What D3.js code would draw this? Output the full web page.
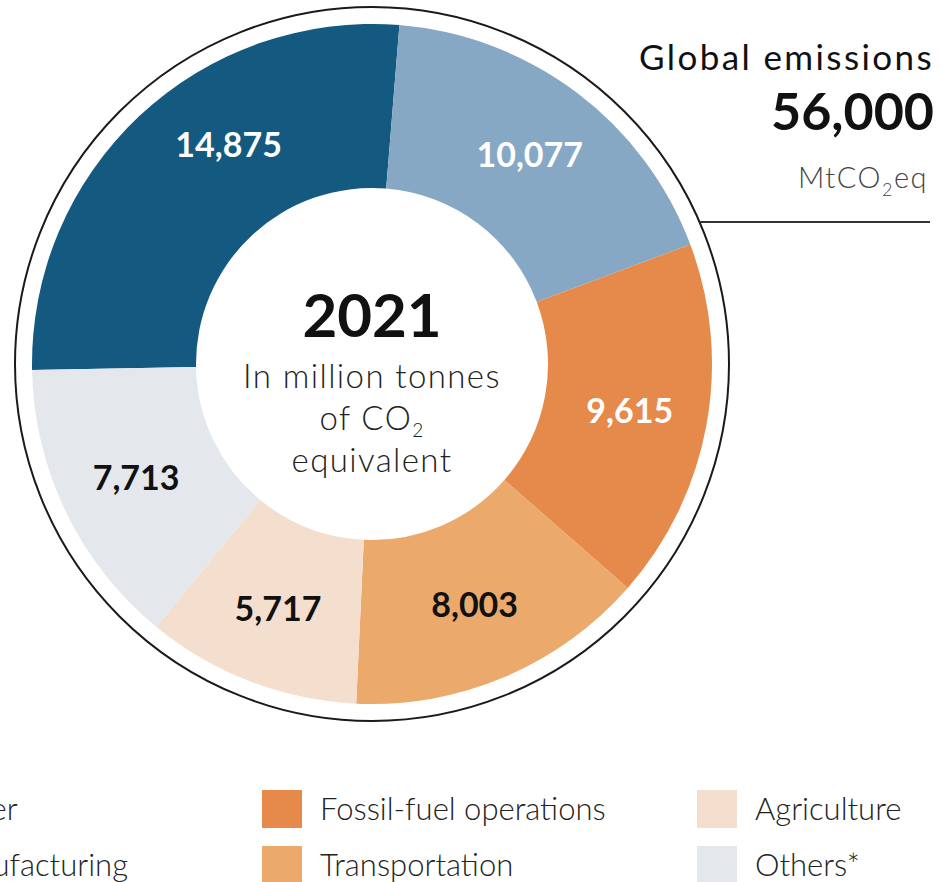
<!DOCTYPE html>
<html>
<head>
<meta charset="utf-8">
<script src="https://cdn.jsdelivr.net/npm/d3@7"></script>
<style>
  html, body { margin: 0; padding: 0; background: #fff; overflow: hidden; }
  svg { display: block; font-family: Lato, "Source Sans Pro", "Noto Sans", sans-serif; }
</style>
</head>
<body>
<svg id="chart" width="941" height="882"></svg>
<script>
// NOTE: chart data
const categories = ['Power', 'Manufacturing', 'Fossil-fuel operations', 'Transportation', 'Agriculture', 'Others*']
const values = [14875, 10077, 9615, 8003, 5717, 7713]
const colors = ['#135980', '#86a8c4', '#e68a4b', '#eba96c', '#f4dfcf', '#e4e8ec']
const labelColors = ['#fff', '#fff', '#fff', '#111', '#111', '#111']
const year = '2021'
const total = 56000

const svg = d3.select('#chart')
const cx = 372
const cy = 364
const outerR = 340
const innerR = 176
const ringR = 357

const data = categories.map((name, i) => ({ name, value: values[i], color: colors[i], label: labelColors[i] }))

const pie = d3.pie()
  .sort(null)
  .value(d => d.value)
  .startAngle(-91 * Math.PI / 180)
  .endAngle(269 * Math.PI / 180)

const arc = d3.arc().innerRadius(innerR).outerRadius(outerR)
const labelArc = d3.arc().innerRadius(262).outerRadius(262)

const g = svg.append('g').attr('transform', `translate(${cx},${cy})`)

// NOTE: thin outline ring around the donut
g.append('circle')
  .attr('r', ringR)
  .attr('fill', 'none')
  .attr('stroke', '#1a1a1a')
  .attr('stroke-width', 2)

const arcs = pie(data)

g.selectAll('path.slice')
  .data(arcs)
  .join('path')
  .attr('class', 'slice')
  .attr('d', arc)
  .attr('fill', d => d.data.color)

// NOTE: power label sits a bit clockwise of its centroid angle
const labelTurn = { Power: 10 * Math.PI / 180 }

g.selectAll('text.value')
  .data(arcs)
  .join('text')
  .attr('class', 'value')
  .attr('transform', d => {
    const turn = labelTurn[d.data.name] || 0
    const a = (d.startAngle + d.endAngle) / 2 + turn
    const [x, y] = labelArc.centroid({ startAngle: a, endAngle: a })
    return `translate(${x},${y})`
  })
  .attr('text-anchor', 'middle')
  .attr('dy', '0.36em')
  .attr('font-size', 34)
  .attr('font-weight', 700)
  .attr('fill', d => d.data.label)
  .text(d => d3.format(',')(d.data.value))

// NOTE: centre text
g.append('text')
  .attr('text-anchor', 'middle')
  .attr('y', -27)
  .attr('font-size', 60)
  .attr('font-weight', 700)
  .attr('fill', '#111')
  .text(year)

const centerLines = g.append('text')
  .attr('text-anchor', 'middle')
  .attr('font-size', 33)
  .attr('font-weight', 300)
  .attr('letter-spacing', 1.4)
  .attr('fill', '#222')

centerLines.append('tspan').attr('x', 0).attr('y', 24).text('In million tonnes')
const co2 = centerLines.append('tspan').attr('x', 0).attr('y', 66)
co2.append('tspan').text('of CO')
co2.append('tspan').attr('font-size', 19).attr('dy', 7).text('2')
centerLines.append('tspan').attr('x', 0).attr('y', 108).text('equivalent')

// NOTE: global total, top right
const right = 934
svg.append('text')
  .attr('x', right)
  .attr('y', 70)
  .attr('text-anchor', 'end')
  .attr('font-size', 35)
  .attr('letter-spacing', 2.4)
  .attr('fill', '#111')
  .text('Global emissions')

svg.append('text')
  .attr('x', right)
  .attr('y', 130)
  .attr('text-anchor', 'end')
  .attr('font-size', 52)
  .attr('font-weight', 700)
  .attr('fill', '#111')
  .text(d3.format(',')(total))

const unit = svg.append('text')
  .attr('x', right - 6)
  .attr('y', 188)
  .attr('text-anchor', 'end')
  .attr('font-size', 29)
  .attr('font-weight', 300)
  .attr('letter-spacing', 1.5)
  .attr('fill', '#444')
unit.append('tspan').text('MtCO')
unit.append('tspan').attr('font-size', 18).attr('dy', 8).text('2')
unit.append('tspan').attr('dy', -8).text('eq')

const lineY = 222
svg.append('line')
  .attr('x1', cx + Math.sqrt(ringR * ringR - (lineY - cy) * (lineY - cy)))
  .attr('x2', 930)
  .attr('y1', lineY)
  .attr('y2', lineY)
  .attr('stroke', '#333')
  .attr('stroke-width', 2)

// NOTE: legend, three columns of two; the first column runs off the left edge
const legend = svg.append('g')
const colX = [0, 262, 697]
const rowY = [790, 846]

data.forEach((d, i) => {
  const col = Math.floor(i / 2)
  const row = i % 2
  const item = legend.append('g')
  const text = item.append('text')
    .attr('y', rowY[row] + 30)
    .attr('font-size', 31)
    .attr('font-weight', 300)
    .attr('fill', '#222')
    .text(d.name)
  let x = colX[col]
  if (col === 0) {
    // NOTE: line up so "Manufacturing" ends where the crop shows it
    const probe = legend.append('text').attr('font-size', 31).attr('font-weight', 300).text('Manufacturing')
    x = 128 - probe.node().getComputedTextLength() - 58
    probe.remove()
  }
  item.append('rect')
    .attr('x', x)
    .attr('y', rowY[row])
    .attr('width', 40)
    .attr('height', 38)
    .attr('fill', d.color)
  text.attr('x', x + 58)
})
</script>
</body>
</html>
